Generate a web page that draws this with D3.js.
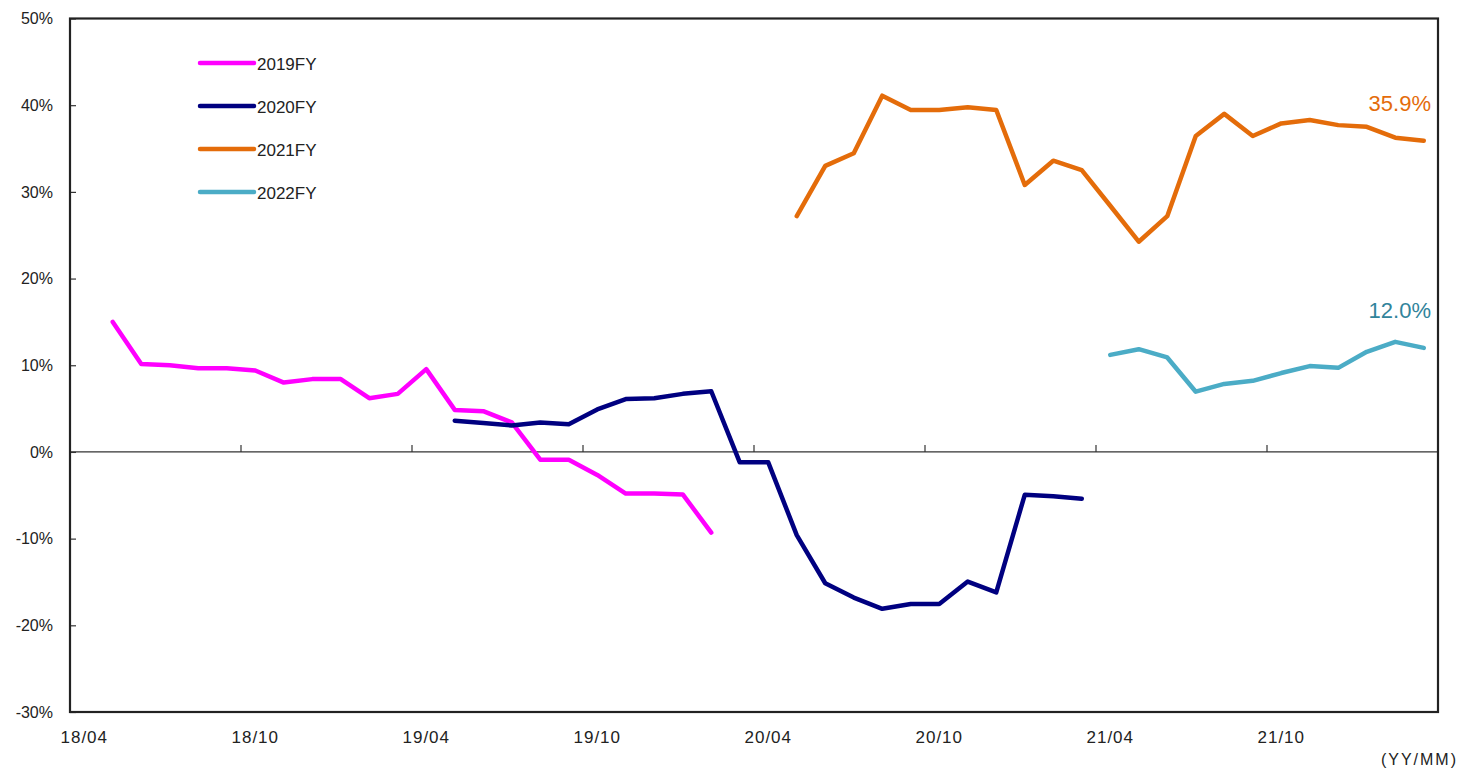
<!DOCTYPE html>
<html>
<head>
<meta charset="utf-8">
<script src="https://cdn.jsdelivr.net/npm/d3@7/dist/d3.min.js"></script>
<style>
  html, body { margin: 0; padding: 0; background: #fff; }
  svg { display: block; }
  text { font-family: "Liberation Sans", Arial, sans-serif; fill: #222; }
</style>
</head>
<body>
<svg id="chart" width="1467" height="768"></svg>
<script>
// Monthly categories (YY/MM), fiscal years start in April
const months = [
  "18/04","18/05","18/06","18/07","18/08","18/09","18/10","18/11","18/12","19/01","19/02","19/03",
  "19/04","19/05","19/06","19/07","19/08","19/09","19/10","19/11","19/12","20/01","20/02","20/03",
  "20/04","20/05","20/06","20/07","20/08","20/09","20/10","20/11","20/12","21/01","21/02","21/03",
  "21/04","21/05","21/06","21/07","21/08","21/09","21/10","21/11","21/12","22/01","22/02","22/03"
];
const tickMonths = ["18/04","18/10","19/04","19/10","20/04","20/10","21/04","21/10"];
const yTicks = [-30, -20, -10, 0, 10, 20, 30, 40, 50];

// Series values (%), each starting at the given month
const seriesNames = ["2019FY", "2020FY", "2021FY", "2022FY"];
const seriesStart = ["18/05", "19/05", "20/05", "21/04"];
const seriesColors = ["#FF00FF", "#000080", "#E46C0A", "#4BACC6"];
const fy2019 = [15.0, 10.15, 10.0, 9.65, 9.65, 9.4, 8.0, 8.4, 8.4, 6.2, 6.7, 9.55,
                4.85, 4.7, 3.4, -0.9, -0.9, -2.65, -4.8, -4.8, -4.9, -9.3];
const fy2020 = [3.6, 3.35, 3.05, 3.4, 3.2, 4.9, 6.1, 6.2, 6.7, 7.0, -1.2, -1.2,
                -9.6, -15.15, -16.8, -18.1, -17.55, -17.55, -14.95, -16.2, -4.95, -5.1, -5.4];
const fy2021 = [27.2, 33.0, 34.45, 41.1, 39.45, 39.45, 39.75, 39.45, 30.8, 33.6, 32.5,
                28.4, 24.25, 27.2, 36.45, 39.0, 36.45, 37.9, 38.3, 37.7, 37.5, 36.25, 35.9];
const fy2022 = [11.2, 11.85, 10.9, 6.95, 7.85, 8.2, 9.1, 9.9, 9.7, 11.55, 12.7, 12.0];
const seriesValues = [fy2019, fy2020, fy2021, fy2022];

// End-of-line value labels
const endLabels = [
  { series: 2, text: "35.9%", color: "#E46C0A" },
  { series: 3, text: "12.0%", color: "#31849B" }
];

const svg = d3.select("#chart");
const plotLeft = 70, plotRight = 1438, plotTop = 18.5, plotBottom = 712;

const x = d3.scaleBand().domain(months).range([plotLeft, plotRight]).padding(0);
const y = d3.scaleLinear().domain([-30, 50]).range([plotBottom, plotTop]);
const cx = m => x(m) + x.bandwidth() / 2;

const series = seriesNames.map((name, s) => {
  const i0 = months.indexOf(seriesStart[s]);
  return {
    name,
    color: seriesColors[s],
    points: seriesValues[s].map((v, k) => ({ m: months[i0 + k], v }))
  };
});

// Zero line
svg.append("line")
  .attr("x1", plotLeft).attr("x2", plotRight)
  .attr("y1", y(0)).attr("y2", y(0))
  .attr("stroke", "#333").attr("stroke-width", 1.2);

// Month ticks on the zero line
svg.append("g").selectAll("line")
  .data(tickMonths.slice(1))
  .join("line")
  .attr("x1", d => x(d)).attr("x2", d => x(d))
  .attr("y1", y(0)).attr("y2", y(0) - 7)
  .attr("stroke", "#333").attr("stroke-width", 1.2);

// Month labels, centred on the first month of each half year
svg.append("g").selectAll("text")
  .data(tickMonths)
  .join("text")
  .attr("x", d => cx(d))
  .attr("y", 743)
  .attr("text-anchor", "middle")
  .attr("font-size", 17)
  .attr("letter-spacing", 1)
  .text(d => d);

// Y axis: ticks point inward
const yAxis = svg.append("g")
  .attr("transform", `translate(${plotLeft},0)`)
  .call(d3.axisLeft(y)
    .tickValues(yTicks)
    .tickSize(-6)
    .tickPadding(17)
    .tickFormat(d => d + "%"));
yAxis.select(".domain").remove();
yAxis.selectAll(".tick line").attr("stroke", "#333").attr("stroke-width", 1.2);
yAxis.selectAll(".tick text")
  .attr("font-size", 16)
  .attr("font-family", "Liberation Sans, Arial, sans-serif")
  .attr("fill", "#222");

// Plot frame
svg.append("rect")
  .attr("x", plotLeft).attr("y", plotTop)
  .attr("width", plotRight - plotLeft).attr("height", plotBottom - plotTop)
  .attr("fill", "none").attr("stroke", "#222").attr("stroke-width", 2.2);

// Series lines
const line = d3.line().x(d => cx(d.m)).y(d => y(d.v));
svg.append("g").selectAll("path")
  .data(series)
  .join("path")
  .attr("d", d => line(d.points))
  .attr("fill", "none")
  .attr("stroke", d => d.color)
  .attr("stroke-width", 4.5)
  .attr("stroke-linejoin", "round")
  .attr("stroke-linecap", "round");

// End labels
svg.append("g").selectAll("text")
  .data(endLabels)
  .join("text")
  .attr("x", 1431)
  .attr("y", d => {
    const pts = series[d.series].points;
    return y(pts[pts.length - 1].v) - 30;
  })
  .attr("text-anchor", "end")
  .attr("font-size", 22)
  .style("fill", d => d.color)
  .text(d => d.text);

// Legend
const legend = svg.append("g").selectAll("g")
  .data(series)
  .join("g")
  .attr("transform", (d, i) => `translate(200,${63 + i * 43})`);
legend.append("line")
  .attr("x1", 0).attr("x2", 54)
  .attr("stroke", d => d.color)
  .attr("stroke-width", 4.5)
  .attr("stroke-linecap", "round");
legend.append("text")
  .attr("x", 57).attr("y", 6.5)
  .attr("font-size", 17)
  .text(d => d.name);

// Axis unit note
svg.append("text")
  .attr("x", 1458).attr("y", 765)
  .attr("text-anchor", "end")
  .attr("font-size", 16)
  .attr("letter-spacing", 2)
  .text("(YY/MM)");
</script>
</body>
</html>
